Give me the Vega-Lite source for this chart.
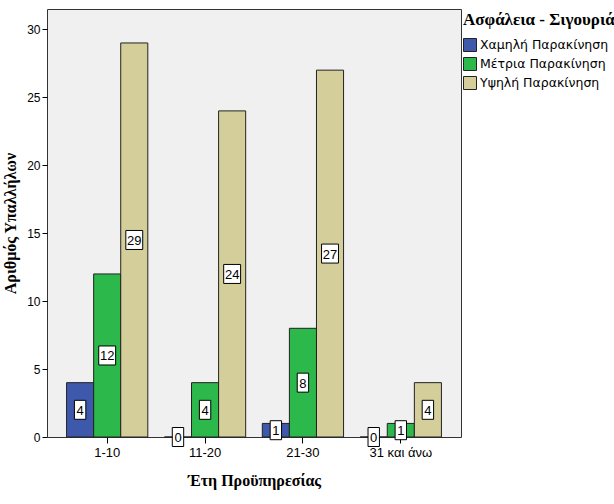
{
  "$schema": "https://vega.github.io/schema/vega-lite/v6.json",
  "autosize": {"type": "none"},
  "width": 414,
  "height": 428,
  "padding": {"left": 47, "top": 9, "right": 153, "bottom": 67},
  "background": "#ffffff",
  "config": {
    "view": {"fill": "#f0f0f0", "stroke": "#333333", "strokeWidth": 1},
    "axis": {"grid": false, "domain": false, "tickColor": "#000000", "labelColor": "#000000", "titleColor": "#000000", "labelFont": "Liberation Sans", "labelFontSize": 12, "titleFont": "Liberation Serif", "titleFontSize": 16, "titleFontWeight": "bold"},
    "legend": {"titleFont": "Liberation Serif", "titleFontSize": 17, "titleFontWeight": "bold", "titleColor": "#000000", "labelFont": "DejaVu Sans", "labelFontSize": 12.5, "labelColor": "#000000", "symbolType": "square", "symbolSize": 169, "symbolStrokeColor": "#222222", "symbolStrokeWidth": 1, "symbolOpacity": 1, "rowPadding": 1, "labelOffset": 3, "titlePadding": 9, "titleLimit": 300, "labelLimit": 300}
  },
  "data": {"values": [
    {"years": "1-10", "level": "Χαμηλή Παρακίνηση", "count": 4},
    {"years": "1-10", "level": "Μέτρια Παρακίνηση", "count": 12},
    {"years": "1-10", "level": "Υψηλή Παρακίνηση", "count": 29},
    {"years": "11-20", "level": "Χαμηλή Παρακίνηση", "count": 0},
    {"years": "11-20", "level": "Μέτρια Παρακίνηση", "count": 4},
    {"years": "11-20", "level": "Υψηλή Παρακίνηση", "count": 24},
    {"years": "21-30", "level": "Χαμηλή Παρακίνηση", "count": 1},
    {"years": "21-30", "level": "Μέτρια Παρακίνηση", "count": 8},
    {"years": "21-30", "level": "Υψηλή Παρακίνηση", "count": 27},
    {"years": "31 και άνω", "level": "Χαμηλή Παρακίνηση", "count": 0},
    {"years": "31 και άνω", "level": "Μέτρια Παρακίνηση", "count": 1},
    {"years": "31 και άνω", "level": "Υψηλή Παρακίνηση", "count": 4}
  ]},
  "encoding": {
    "x": {"field": "years", "type": "nominal", "sort": ["1-10", "11-20", "21-30", "31 και άνω"],
      "scale": {"paddingInner": 0.17, "paddingOuter": 0.2},
      "axis": {"title": "Έτη Προϋπηρεσίας", "labelAngle": 0, "labelFontSize": 13, "tickSize": 6, "labelPadding": 3, "titlePadding": 13}},
    "xOffset": {"field": "level", "type": "nominal", "scale": {"domain": ["Χαμηλή Παρακίνηση", "Μέτρια Παρακίνηση", "Υψηλή Παρακίνηση"], "paddingInner": 0, "paddingOuter": 0}}
  },
  "layer": [
    {
      "mark": {"type": "bar", "stroke": "#222222", "strokeWidth": 1, "opacity": 1},
      "encoding": {
        "y": {"field": "count", "type": "quantitative", "scale": {"domain": [0, 31.5], "nice": false},
          "axis": {"title": "Αριθμός Υπαλλήλων", "values": [0, 5, 10, 15, 20, 25, 30], "tickSize": 5, "labelPadding": 2, "titlePadding": 8}},
        "color": {"field": "level", "type": "nominal",
          "scale": {"domain": ["Χαμηλή Παρακίνηση", "Μέτρια Παρακίνηση", "Υψηλή Παρακίνηση"], "range": ["#3e58ac", "#2db84b", "#d4cf9a"]},
          "legend": {"title": "Ασφάλεια - Σιγουριά", "orient": "none", "legendX": 416, "legendY": 3, "padding": 0}}
      }
    },
    {
      "encoding": {
        "y": {"field": "count", "type": "quantitative", "scale": {"domain": [0, 63], "nice": false}, "axis": null}
      },
      "layer": [
        {
          "mark": {"type": "point", "filled": true, "fill": "#ffffff", "stroke": "#000000", "strokeWidth": 1, "opacity": 1, "size": 361},
          "encoding": {
            "shape": {"condition": {"test": "datum.count >= 10", "value": "M-0.89,-1L0.89,-1L0.89,1L-0.89,1Z"}, "value": "M-0.6,-1L0.6,-1L0.6,1L-0.6,1Z"}
          }
        },
        {
          "mark": {"type": "text", "font": "Liberation Sans", "fontSize": 13, "color": "#000000", "align": "center", "baseline": "middle", "dy": 1},
          "encoding": {"text": {"field": "count", "type": "quantitative"}}
        }
      ]
    }
  ],
  "resolve": {"scale": {"y": "independent"}}
}
